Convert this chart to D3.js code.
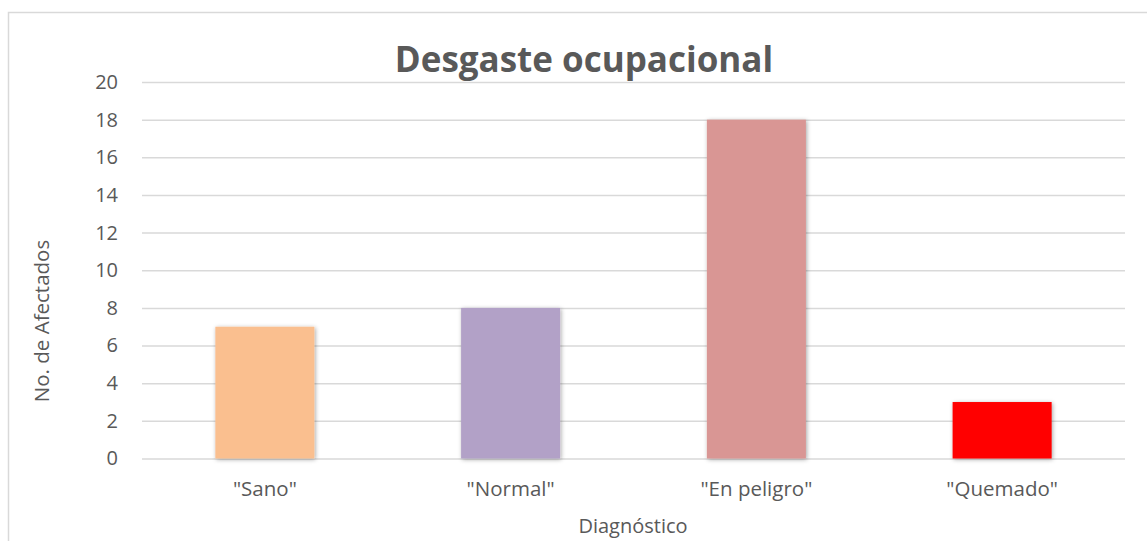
<!DOCTYPE html>
<html>
<head>
<meta charset="utf-8">
<script src="https://cdn.jsdelivr.net/npm/d3@7"></script>
<style>
  html, body { margin: 0; padding: 0; background: #fff; }
  svg text { font-family: "Open Sans", sans-serif; fill: #595959; }
</style>
</head>
<body>
<div id="chart"></div>
<script>
// Chart data
const categories = ['"Sano"', '"Normal"', '"En peligro"', '"Quemado"'];
const afectados = [7, 8, 18, 3];
const barColors = ["#FABF8F", "#B2A1C7", "#D99694", "#FF0000"];
const yTicks = [0, 2, 4, 6, 8, 10, 12, 14, 16, 18, 20];

const width = 1147;
const height = 541;
const margin = { top: 82, right: 22, bottom: 83, left: 142 };

const svg = d3.select("#chart").append("svg")
    .attr("width", width)
    .attr("height", height);

// Soft shadow under the bars, like the spreadsheet style
const defs = svg.append("defs");
defs.append("filter")
    .attr("id", "shadow")
    .attr("x", "-20%").attr("y", "-20%")
    .attr("width", "140%").attr("height", "140%")
    .append("feDropShadow")
    .attr("dx", 1).attr("dy", 1)
    .attr("stdDeviation", 2)
    .attr("flood-color", "#000")
    .attr("flood-opacity", 0.35);

// Chart area border (runs off the right and bottom edges)
svg.append("rect")
    .attr("x", 8.5).attr("y", 12.5)
    .attr("width", 1300).attr("height", 700)
    .attr("fill", "none")
    .attr("stroke", "#d9d9d9")
    .attr("stroke-width", 1.5);

const x = d3.scaleBand()
    .domain(categories)
    .range([margin.left, width - margin.right])
    .paddingInner(0.597)
    .paddingOuter(0.2985);

const y = d3.scaleLinear()
    .domain([0, 20])
    .range([height - margin.bottom + 0.5, margin.top]);

// Gridlines + y tick labels
const yAxis = svg.append("g")
    .attr("transform", `translate(${margin.left},0)`)
    .call(d3.axisLeft(y).tickValues(yTicks)
        .tickSize(-(width - margin.left - margin.right))
        .tickPadding(24));
yAxis.select(".domain").remove();
yAxis.selectAll(".tick line")
    .attr("stroke", "#d9d9d9")
    .attr("stroke-width", 1.5);
yAxis.selectAll(".tick text")
    .style("font-size", "20px")
    .attr("fill", "#595959");

// Bars
svg.append("g")
    .selectAll("rect")
    .data(afectados)
    .join("rect")
    .attr("x", (d, i) => x(categories[i]))
    .attr("y", d => y(d))
    .attr("width", x.bandwidth())
    .attr("height", d => y(0) - y(d))
    .attr("fill", (d, i) => barColors[i])
    .attr("filter", "url(#shadow)");

// Category labels
const xAxis = svg.append("g")
    .attr("transform", `translate(0,${y(0)})`)
    .call(d3.axisBottom(x).tickSize(0).tickPadding(23));
xAxis.select(".domain").remove();
xAxis.selectAll(".tick text")
    .style("font-size", "20.5px")
    .attr("fill", "#595959");

// Title
svg.append("text")
    .attr("x", 584)
    .attr("y", 72)
    .attr("text-anchor", "middle")
    .style("font-size", "35px")
    .style("font-weight", "bold")
    .text("Desgaste ocupacional");

// Axis titles
svg.append("text")
    .attr("x", 633)
    .attr("y", 533)
    .attr("text-anchor", "middle")
    .style("font-size", "20px")
    .text("Diagnóstico");

svg.append("text")
    .attr("transform", "translate(49,321) rotate(-90)")
    .attr("text-anchor", "middle")
    .style("font-size", "20.5px")
    .text("No. de Afectados");
</script>
</body>
</html>
